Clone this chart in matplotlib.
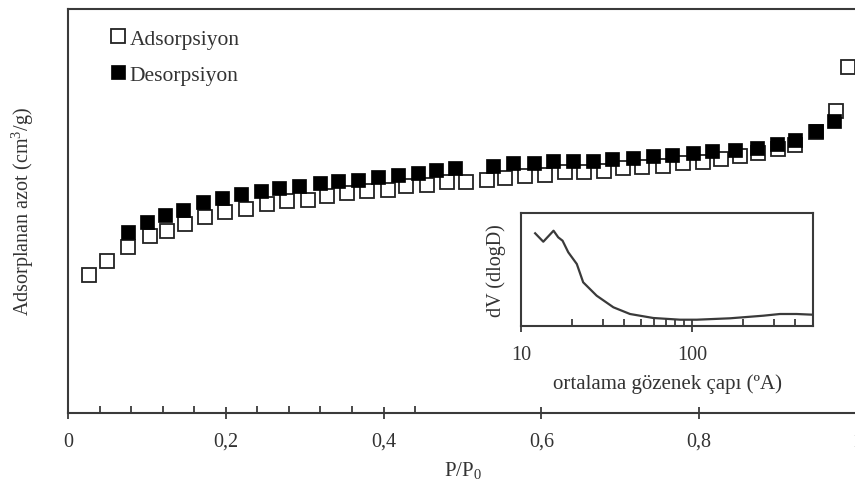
import matplotlib
matplotlib.use("Agg")
import matplotlib.pyplot as plt
import numpy as np
from matplotlib.ticker import FixedLocator, FuncFormatter, NullFormatter

plt.rcParams['font.family'] = ['Liberation Serif', 'DejaVu Serif']
plt.rcParams['mathtext.fontset'] = 'custom'
plt.rcParams['mathtext.rm'] = 'Liberation Serif'
plt.rcParams['mathtext.it'] = 'Liberation Serif:italic'
plt.rcParams['mathtext.bf'] = 'Liberation Serif:bold'

# ---- data ----
ads_x = [0.026, 0.049, 0.076, 0.104, 0.125, 0.148, 0.174, 0.199, 0.226, 0.252,
         0.278, 0.304, 0.328, 0.354, 0.379, 0.405, 0.429, 0.455, 0.480, 0.505,
         0.531, 0.554, 0.579, 0.605, 0.630, 0.654, 0.679, 0.703, 0.728, 0.754,
         0.780, 0.805, 0.827, 0.852, 0.875, 0.900, 0.921, 0.948, 0.973, 0.989]
ads_y = [138.0, 152.3, 165.7, 177.3, 182.3, 189.0, 195.7, 200.7, 204.0, 209.0,
         211.7, 213.3, 216.7, 220.0, 221.7, 223.3, 226.7, 228.3, 230.7, 231.3,
         233.3, 235.0, 236.7, 238.3, 240.7, 241.3, 241.7, 244.7, 246.5, 247.3,
         250.0, 250.7, 254.0, 257.3, 260.0, 264.0, 268.0, 281.0, 302.3, 345.7]

des_x = [0.076, 0.100, 0.123, 0.146, 0.171, 0.195, 0.219, 0.244, 0.267, 0.293,
         0.319, 0.342, 0.368, 0.393, 0.418, 0.444, 0.467, 0.490, 0.539, 0.564,
         0.590, 0.615, 0.640, 0.665, 0.689, 0.716, 0.742, 0.766, 0.792, 0.816,
         0.845, 0.873, 0.899, 0.921, 0.948, 0.971]
des_y = [181.3, 190.7, 198.3, 203.3, 210.7, 215.0, 219.0, 221.7, 224.7, 226.7,
         230.0, 232.3, 233.3, 235.7, 238.3, 240.0, 243.0, 245.5, 247.3, 250.0,
         250.0, 251.7, 251.7, 252.3, 254.0, 254.7, 256.7, 258.0, 259.7, 261.7,
         263.3, 264.7, 269.0, 273.3, 281.7, 292.3]

# inset: pore size distribution
psd_d = [12.1, 13.5, 15.5, 16.5, 17.5, 18.9, 21.2, 23.1, 27.7, 34.7,
         43.4, 59.4, 85.1, 106.6, 166.8, 261.0, 327.0, 409.0, 508.0]
psd_v = [92.7, 84.3, 95.3, 88.7, 85.3, 73.7, 62.0, 43.7, 30.3, 18.7,
         12.0, 8.0, 6.3, 6.3, 7.7, 10.3, 12.0, 12.0, 11.3]

xticks = [0, 0.2, 0.4, 0.6, 0.8, 1.0]
xtick_labels = ['0', '0,2', '0,4', '0,6', '0,8', '1']
minor_ticks = [0.04, 0.08, 0.12, 0.16, 0.24, 0.28, 0.32, 0.36, 0.44]

W, H = 855, 485
fig = plt.figure(figsize=(W / 100, H / 100), dpi=100)
spine_c = '#3a3a3a'
text_c = '#333333'

ax = fig.add_axes([68 / W, (H - 414) / H, (857 - 68) / W, 404 / H])
ax.set_xlim(0, 1)
ax.set_ylim(0, 404)
ax.plot(ads_x, ads_y, linestyle='none', marker='s', markersize=9.8,
        markerfacecolor='white', markeredgecolor='#222222', markeredgewidth=1.3,
        label='Adsorpsiyon', clip_on=False, zorder=3)
ax.plot(des_x, des_y, linestyle='none', marker='s', markersize=10,
        markerfacecolor='black', markeredgecolor='black', markeredgewidth=0.5,
        label='Desorpsiyon', clip_on=False, zorder=4)

for s in ['left', 'bottom', 'top', 'right']:
    ax.spines[s].set_color(spine_c)
    ax.spines[s].set_linewidth(1.5)
ax.spines['right'].set_visible(False)
ax.set_yticks([])
ax.xaxis.set_major_locator(FixedLocator(xticks))
ax.set_xticklabels(xtick_labels)
ax.xaxis.set_minor_locator(FixedLocator(minor_ticks))
ax.tick_params(axis='x', which='major', direction='inout', length=9, width=1.3,
               colors=spine_c, labelcolor=text_c, labelsize=14.5, pad=9)
ax.tick_params(axis='x', which='minor', direction='in', length=5, width=1.3,
               colors=spine_c)
ax.set_xlabel(r'$\mathrm{P/P_0}$', fontsize=15, color=text_c, labelpad=6)
ax.set_ylabel('Adsorplanan azot (cm$^3$/g)', fontsize=14.5, color=text_c, labelpad=23)

leg = ax.legend(loc='upper left', bbox_to_anchor=(0.043, 0.973), frameon=False,
                fontsize=15.5, handlelength=0.7, handletextpad=0.2, labelspacing=0.75,
                borderaxespad=0)
for t in leg.get_texts():
    t.set_color(text_c)

# inset
ins = fig.add_axes([521 / W, (H - 327) / H, (813 - 521) / W, 113 / H])
ins.set_xscale('log')
ins.set_xlim(10, 510)
ins.set_ylim(0, 113)
ins.plot(psd_d, psd_v, color='#3a3a3a', linewidth=1.6)
for s in ins.spines.values():
    s.set_color(spine_c)
    s.set_linewidth(1.5)
ins.set_yticks([])
ins.xaxis.set_major_locator(FixedLocator([10, 100]))
ins.xaxis.set_major_formatter(FuncFormatter(lambda v, p: f'{int(v)}'))
ins.xaxis.set_minor_locator(FixedLocator([20, 30, 40, 50, 60, 70, 80, 90, 200, 300, 400]))
ins.xaxis.set_minor_formatter(NullFormatter())
ins.tick_params(axis='x', which='major', direction='inout', length=9, width=1.3,
                colors=spine_c, labelcolor=text_c, labelsize=14.5, pad=9)
ins.tick_params(axis='x', which='minor', direction='in', length=5, width=1.3,
                colors=spine_c)
ins.set_xlabel('ortalama gözenek çapı (ºA)', fontsize=15, color=text_c, labelpad=7)
ins.set_ylabel('dV (dlogD)', fontsize=14.5, color=text_c, labelpad=11)

fig.savefig('out.png', dpi=100)
